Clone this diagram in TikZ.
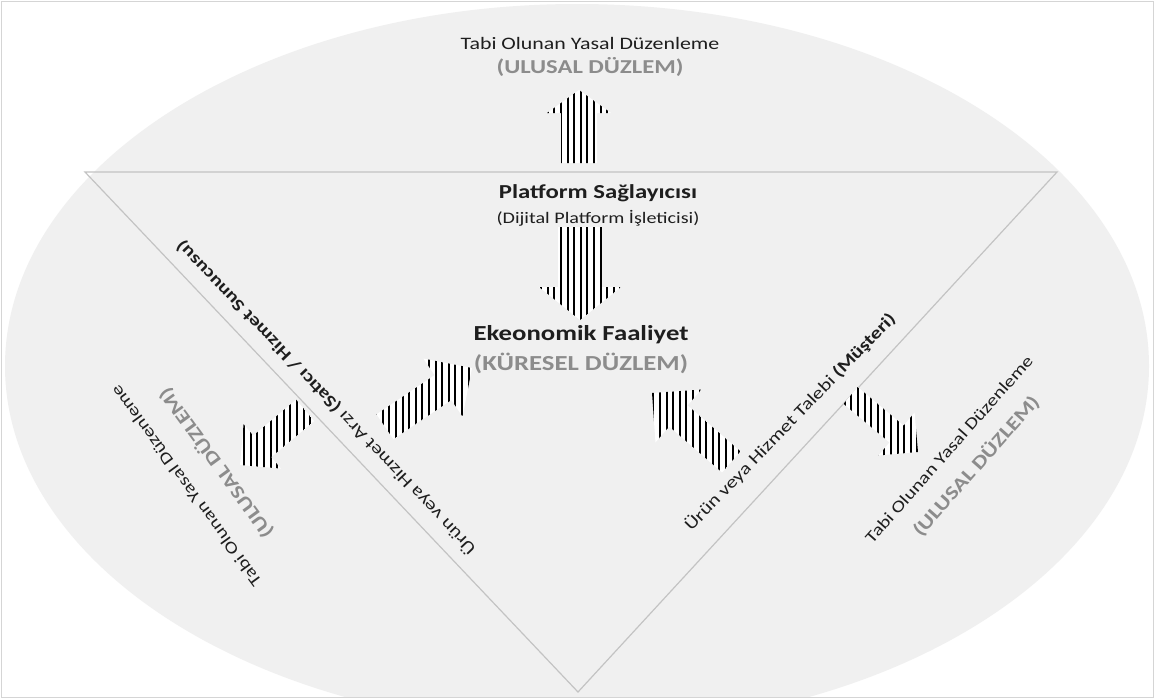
\documentclass[tikz,border=0pt]{standalone}
\usepackage{fontspec}
\setmainfont{Carlito}[FakeStretch=1.25]
\usetikzlibrary{shapes,arrows,positioning,patterns.meta}

\definecolor{zemin}{RGB}{240,240,240}
\definecolor{cizgi}{RGB}{195,195,195}
\definecolor{yazi}{RGB}{30,30,30}
\definecolor{ulusal}{RGB}{140,140,140}

% cizgili blok ok: uc, aci, boy, govde yari genislik, bas yari genislik, bas boyu
\newcommand{\cizgiliok}[6]{%
  \path[okdolgu, shift={(#1)}, rotate=#2]
    (0,0) -- (-#6,#5) -- (-#6,#4) -- (-#3,#4) -- (-#3,-#4) -- (-#6,-#4) -- (-#6,-#5) -- cycle;}

\begin{document}
\begin{tikzpicture}[x=1pt, y=-1pt, node distance=24pt,
    okdolgu/.style={preaction={fill=white}, pattern={Lines[angle=90,distance=6.6pt,line width=2pt]}, pattern color=black},
    metin/.style={inner sep=0pt, text=yazi, font=\fontsize{17.5}{20}\selectfont},
    ulusalyazi/.style={inner sep=0pt, text=ulusal, font=\fontsize{19.7}{22}\selectfont\bfseries},
    baslik/.style={inner sep=0pt, text=yazi, font=\fontsize{19.8}{22}\selectfont\bfseries},
    altbaslik/.style={inner sep=0pt, text=yazi, font=\fontsize{16.1}{18}\selectfont},
    faaliyet/.style={inner sep=0pt, text=yazi, font=\fontsize{21.4}{24}\selectfont\bfseries},
    kuresel/.style={inner sep=0pt, text=ulusal, font=\fontsize{21.4}{24}\selectfont\bfseries},
    kenarmetin/.style={inner sep=0pt, text=yazi, font=\fontsize{17}{20}\selectfont},
    yanmetin/.style={inner sep=0pt, text=yazi, font=\fontsize{16.5}{20}\selectfont},
    yanulusal/.style={inner sep=0pt, text=ulusal, font=\fontsize{19}{22}\selectfont\bfseries}]

        \useasboundingbox (0,0) rectangle (1155,699);
        \fill[white] (0,0) rectangle (1155,699);

        % Zemin
        \begin{scope}
            \clip (2,2) rectangle (1153,697);
            \fill[zemin] (577,366) ellipse [x radius=572pt, y radius=362pt];
        \end{scope}
        \draw[cizgi!70, line width=1pt] (1.5,1.5) rectangle (1153.5,697.5);

        % Ucgen
        \coordinate (solust) at (85,172);
        \coordinate (sagust) at (1057,172);
        \coordinate (altuc) at (578,692);
        \draw[cizgi, line width=1.2pt] (solust) -- (sagust) -- (altuc) -- cycle;

        % Oklar
        \cizgiliok{579,90}{90}{73}{18}{32}{23}
        \cizgiliok{580,320}{-90}{93}{22}{41}{33}
        \cizgiliok{472,368}{34}{105}{15}{35}{35}
        \cizgiliok{240,465}{220}{85}{14}{29}{29}
        \cizgiliok{652,393}{139}{105}{14}{35}{35}
        \cizgiliok{918,452}{-40}{88}{11}{28}{28}

        % Dugumler
        \node[metin] (ustyasal) at (590,43) {Tabi Olunan Yasal Düzenleme};
        \node[ulusalyazi, below of=ustyasal] (ustulusal) {(ULUSAL DÜZLEM)};
        \node[baslik] (saglayici) at (598,193) {Platform Sağlayıcısı};
        \node[altbaslik, below of=saglayici, node distance=25pt] (isletici) {(Dijital Platform İşleticisi)};
        \node[faaliyet] (faaliyet) at (581,335) {Ekeonomik Faaliyet};
        \node[kuresel, below of=faaliyet, node distance=28pt] (kuresel) {(KÜRESEL DÜZLEM)};

        % Kenar yazilari
        \node[kenarmetin, rotate=133.6] (arz) at (326,398) {Ürün veya Hizmet Arzı \textbf{(Satıcı / Hizmet Sunucusu)}};
        \node[kenarmetin, rotate=46] (talep) at (790,422) {Ürün veya Hizmet Talebi \textbf{(Müşteri)}};

        % Yan yazilar
        \node[yanmetin, rotate=126] (solyasal) at (186,486) {Tabi Olunan Yasal Düzenleme};
        \node[yanulusal, rotate=126] (solulusal) at (216,463) {(ULUSAL DÜZLEM)};
        \node[yanmetin, rotate=48.5] (sagyasal) at (949,449) {Tabi Olunan Yasal Düzenleme};
        \node[yanulusal, rotate=48.5] (sagulusal) at (976,466) {(ULUSAL DÜZLEM)};

\end{tikzpicture}
\end{document}
